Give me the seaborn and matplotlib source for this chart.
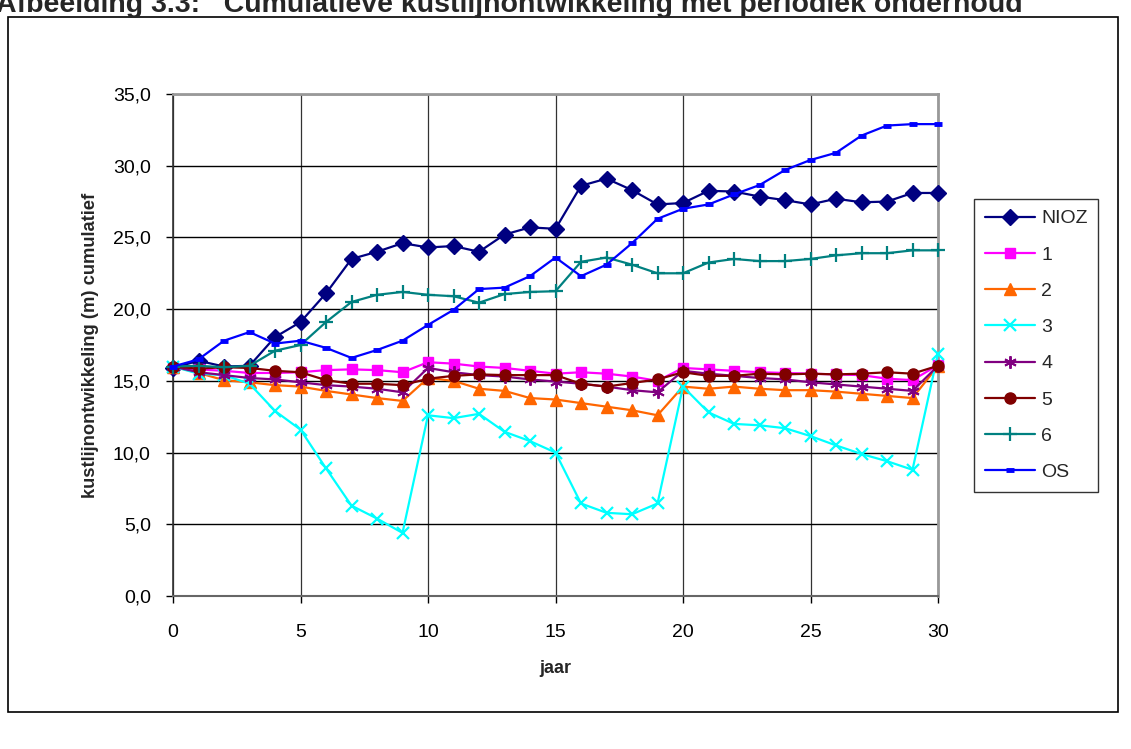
import matplotlib
matplotlib.use("Agg")
import matplotlib.pyplot as plt
import seaborn as sns
import pandas as pd
from matplotlib.patches import Rectangle
from matplotlib.ticker import FuncFormatter

jaar = list(range(31))

nioz = [15.9, 16.4, 16.0, 16.05, 18.05, 19.1, 21.1, 23.5, 24.0, 24.6, 24.3, 24.4, 24.0, 25.2, 25.7, 25.6,
        28.6, 29.1, 28.3, 27.3, 27.4, 28.25, 28.2, 27.85, 27.6, 27.3, 27.7, 27.45, 27.5, 28.1, 28.1]
s1 = [15.9, 15.8, 15.7, 15.55, 15.55, 15.6, 15.75, 15.8, 15.75, 15.6, 16.3, 16.2, 16.0, 15.9, 15.7, 15.5,
      15.6, 15.5, 15.3, 15.0, 15.9, 15.8, 15.7, 15.6, 15.55, 15.5, 15.45, 15.4, 15.15, 15.05, 16.1]
s2 = [16.0, 15.55, 15.05, 14.9, 14.7, 14.6, 14.3, 14.05, 13.8, 13.6, 15.2, 15.0, 14.45, 14.3, 13.8, 13.7,
      13.45, 13.2, 12.95, 12.6, 14.6, 14.45, 14.6, 14.45, 14.35, 14.35, 14.25, 14.1, 13.95, 13.8, 16.05]
s3 = [16.0, 15.5, 15.4, 14.8, 12.9, 11.6, 8.9, 6.3, 5.4, 4.4, 12.6, 12.4, 12.7, 11.45, 10.8, 10.0,
      6.45, 5.8, 5.7, 6.45, 14.6, 12.8, 12.0, 11.9, 11.7, 11.15, 10.5, 9.9, 9.4, 8.8, 16.9]
s4 = [16.0, 15.6, 15.4, 15.2, 15.1, 14.9, 14.7, 14.6, 14.45, 14.2, 15.9, 15.6, 15.4, 15.3, 15.1, 14.95,
      14.8, 14.6, 14.35, 14.2, 15.7, 15.5, 15.35, 15.2, 15.1, 14.9, 14.75, 14.6, 14.45, 14.3, 16.05]
s5 = [16.0, 15.85, 15.95, 15.9, 15.7, 15.6, 15.05, 14.8, 14.8, 14.7, 15.15, 15.35, 15.45, 15.4, 15.4, 15.4,
      14.8, 14.6, 14.85, 15.1, 15.6, 15.35, 15.35, 15.5, 15.45, 15.5, 15.45, 15.5, 15.6, 15.5, 16.05]
s6 = [16.0, 16.05, 15.95, 16.05, 17.1, 17.5, 19.1, 20.5, 21.0, 21.2, 21.0, 20.9, 20.45, 21.05, 21.2, 21.25,
      23.3, 23.6, 23.1, 22.5, 22.5, 23.25, 23.5, 23.35, 23.35, 23.5, 23.75, 23.9, 23.9, 24.1, 24.1]
os_ = [16.0, 16.5, 17.8, 18.4, 17.6, 17.8, 17.3, 16.6, 17.15, 17.8, 18.9, 19.95, 21.4, 21.5, 22.3, 23.6,
       22.3, 23.1, 24.6, 26.3, 27.0, 27.3, 28.0, 28.65, 29.7, 30.4, 30.9, 32.1, 32.8, 32.9, 32.9]

series_names = ["NIOZ", "1", "2", "3", "4", "5", "6", "OS"]
series_values = [nioz, s1, s2, s3, s4, s5, s6, os_]
y_ticks = [0, 5, 10, 15, 20, 25, 30, 35]
x_ticks = [0, 5, 10, 15, 20, 25, 30]

colors = ["#000080", "#FF00FF", "#FF6600", "#00FFFF", "#800080", "#800000", "#008080", "#0000FF"]
markers = ["D", "s", "^", "x", (6, 2, 0), "o", "+", "_"]
msizes = [8, 7, 8, 9, 9, 8, 10, 6]
mews = [1, 1, 1, 1.6, 1.4, 1, 1.6, 3.5]

sns.set_theme(style="white")
plt.rcParams["font.family"] = ["Liberation Sans", "DejaVu Sans"]

fig = plt.figure(figsize=(11.31, 7.49), dpi=100)
ax = fig.add_axes([173 / 1131, 1 - 596 / 749, (938 - 173) / 1131, (596 - 94) / 749])
ax.set_facecolor("white")

df = pd.DataFrame({"jaar": jaar})
for name, vals, c, m, ms, mew in zip(series_names, series_values, colors, markers, msizes, mews):
    df[name] = vals
    sns.lineplot(data=df, x="jaar", y=name, ax=ax, color=c, marker=m, markersize=ms,
                 markeredgewidth=mew, markeredgecolor=c, linewidth=1.6, label=name,
                 legend=False, clip_on=False, zorder=3)

ax.set_xlim(0, 30)
ax.set_ylim(0, 35)
ax.set_xticks(x_ticks)
ax.set_yticks(y_ticks)
ax.yaxis.set_major_formatter(FuncFormatter(lambda v, p: f"{v:.1f}".replace(".", ",")))
ax.grid(True, axis="y", color="black", linewidth=1.0)
ax.grid(True, axis="x", color="#333333", linewidth=0.9)
ax.set_axisbelow(True)
for side in ["top", "right"]:
    ax.spines[side].set_color("#999999")
    ax.spines[side].set_linewidth(2)
ax.spines["left"].set_color("#333333")
ax.spines["left"].set_linewidth(1.2)
ax.spines["bottom"].set_color("#666666")
ax.spines["bottom"].set_linewidth(1.5)
ax.tick_params(axis="both", which="major", direction="out", length=5, width=1, color="black",
               labelsize=14, labelcolor="black", bottom=True, left=True)
ax.tick_params(axis="y", pad=11)
ax.tick_params(axis="x", pad=15)
ax.set_xlabel("jaar", fontsize=13, fontweight="bold", labelpad=14)
ax.set_ylabel("kustlijnontwikkeling (m) cumulatief", fontsize=13.2, fontweight="bold", labelpad=10)

handles, labels = ax.get_legend_handles_labels()
leg = fig.legend(handles, labels, loc="upper left", bbox_to_anchor=(974 / 1131, 1 - 199 / 749),
                 frameon=True, fancybox=False, edgecolor="black", fontsize=14,
                 handlelength=2.6, handletextpad=0.3, labelspacing=0.96, borderpad=0.55,
                 borderaxespad=0)
leg.get_frame().set_linewidth(1.0)

fig.patches.append(Rectangle((8 / 1131, 1 - 712 / 749), (1118 - 8) / 1131, (712 - 17) / 749,
                             transform=fig.transFigure, fill=False, edgecolor="black", linewidth=1.2))

fig.text(-4 / 1131, 1 - 12 / 749,
         "Afbeelding 3.3:   Cumulatieve kustlijnontwikkeling met periodiek onderhoud",
         fontsize=20.5, fontweight="bold", ha="left", va="baseline")

fig.savefig("out.png", dpi=100)
